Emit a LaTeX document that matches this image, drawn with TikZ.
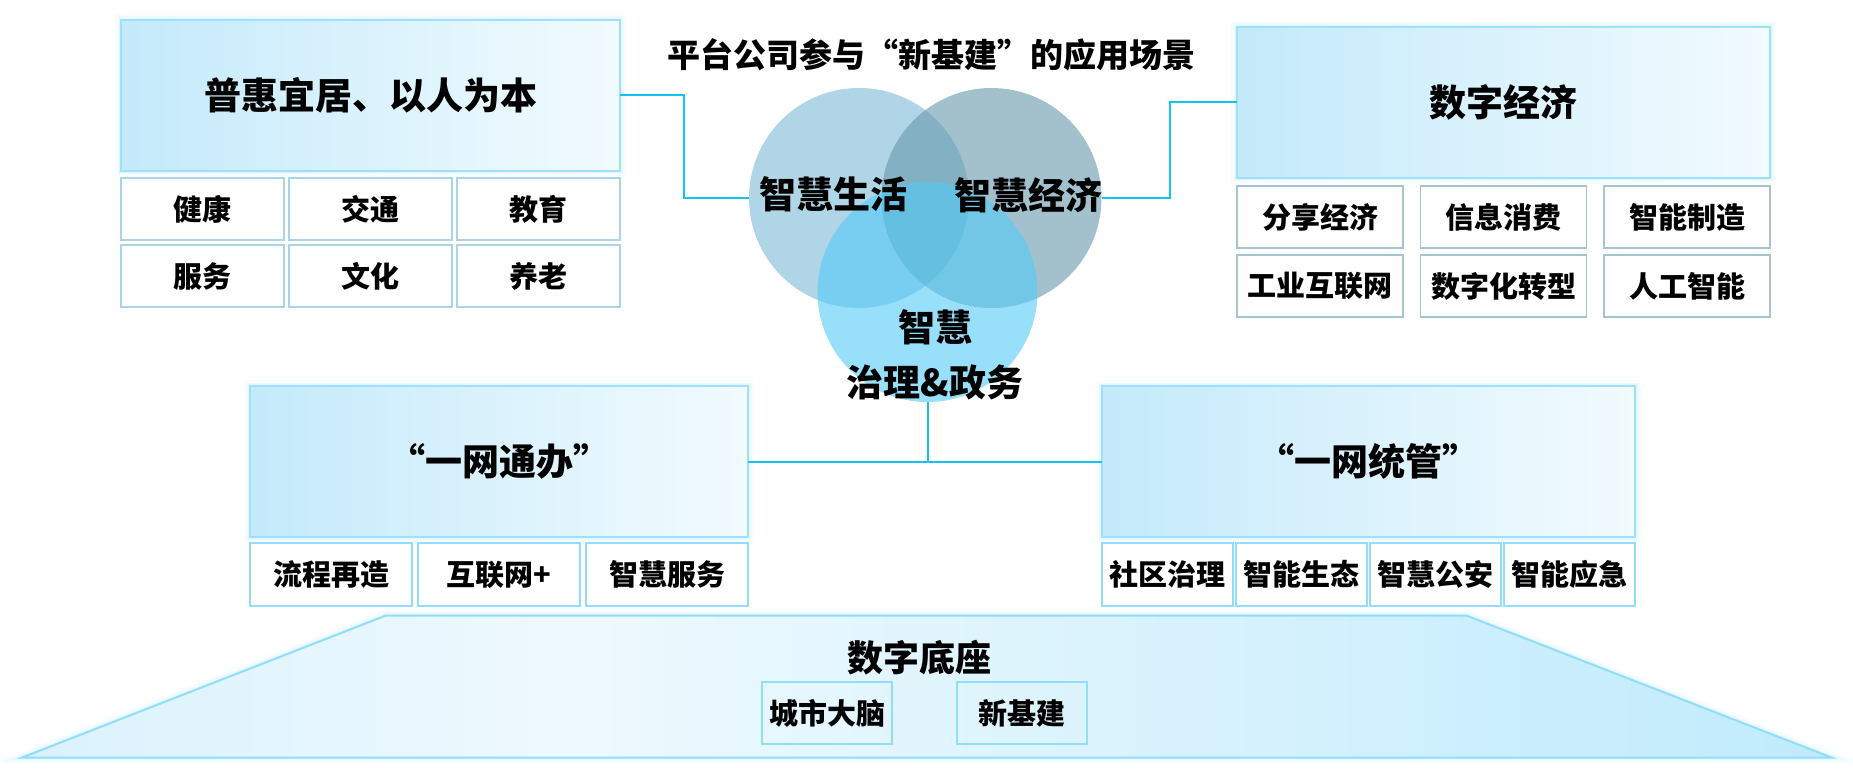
\documentclass[tikz,border=0pt]{standalone}
\usepackage{fontspec}
\setmainfont{Noto Sans CJK SC}[BoldFont={Noto Sans CJK SC Black}]
\usetikzlibrary{positioning}
\definecolor{linkcyan}{RGB}{20,196,240}
\definecolor{headline}{RGB}{160,225,250}
\definecolor{headL}{RGB}{196,234,251}
\definecolor{headR}{RGB}{242,251,254}
\definecolor{huiedge}{RGB}{172,212,232}
\definecolor{shuziedge}{RGB}{165,196,210}
\definecolor{lowedge}{RGB}{146,222,250}
\definecolor{lifeblue}{RGB}{123,185,213}
\definecolor{econblue}{RGB}{102,152,172}
\definecolor{govblue}{RGB}{83,203,247}
\definecolor{baseL}{RGB}{218,242,253}
\definecolor{baseM}{RGB}{238,249,254}
\definecolor{baseR}{RGB}{192,235,252}
\pgfdeclarehorizontalshading{baseshade}{100bp}{color(0bp)=(baseL); color(25bp)=(baseL); color(40bp)=(baseM); color(75bp)=(baseR); color(100bp)=(baseR)}
\tikzset{
    % soft halo round the boxes
    halo/.style={
           preaction={draw=headline, line width=12pt, draw opacity=0.07},
           preaction={draw=headline, line width=7pt, draw opacity=0.10},
           preaction={draw=headline, line width=4pt, draw opacity=0.15}},
    %Define style for heading boxes
    headbox/.style={
           rectangle, halo,
           draw=headline, line width=1.5pt,
           left color=headL, right color=headR,
           minimum height=151pt,
           outer sep=0pt,
           font=\bfseries\fontsize{37}{40}\selectfont},
 %
    itembox/.style={
           rectangle,
           fill=white, line width=1.8pt,
           minimum height=62pt,
           inner sep=0pt, outer sep=0pt,
           font=\bfseries\fontsize{29}{32}\selectfont},
    huiitem/.style={itembox, draw=huiedge, minimum width=163pt},
    shuziitem/.style={itembox, draw=shuziedge, minimum width=166pt},
    banitem/.style={itembox, draw=lowedge, minimum width=162pt, minimum height=63pt},
    guanitem/.style={itembox, draw=lowedge, minimum width=131pt, minimum height=63pt},
    baseitem/.style={itembox, draw=lowedge, fill=none, minimum width=130pt},
 %
    % circles of the venn part
    venn/.style={
           circle,
           minimum size=220pt,
           inner sep=0pt,
           fill opacity=0.6},
    venntext/.style={font=\bfseries\fontsize{37}{55}\selectfont, inner sep=0pt},
    % Define line style
    link/.style={
           draw=linkcyan,
           line width=2pt}
}
\begin{document}
\begin{tikzpicture}[x=1pt, y=-1pt]
  \useasboundingbox (0,0) rectangle (1853,778);

  % base
  \draw[halo, draw=lowedge, line width=2pt, shading=baseshade]
    (21.7,757.7) -- (385.5,615.7) -- (1466.7,615.7) -- (1832,757.7) -- cycle;
  \node[font=\bfseries\fontsize{36}{40}\selectfont] (dizuo) at (919.5,657.5) {数字底座};
  \node[baseitem] (brain) at (827,713) {城市大脑};
  \node[baseitem] (xinjijian) at (1021.75,713) {新基建};

  % venn
  \node[font=\bfseries\fontsize{33}{36}\selectfont] (title) at (931,55) {平台公司参与“新基建”的应用场景};
  \node[venn, fill=lifeblue] (lifeC) at (859,198) {};
  \node[venn, fill=econblue] (econC) at (991.5,198) {};
  \node[venn, fill=govblue] (govC) at (927.5,292) {};
  \node[venntext] (lifeT) at (833,194) {智慧生活};
  \node[venntext] (econT) at (1028,195) {智慧经济};
  \node[venntext, align=center] (govT) at (935,354.5) {智慧\\治理\&政务};

  % 普惠宜居
  \node[headbox, minimum width=499pt] (hui) at (370.5,95.5) {普惠宜居、以人为本};
  \node[huiitem, below right=7pt and 0pt of hui.south west] (jiankang) {健康};
  \node[huiitem, right=5pt of jiankang] (jiaotong) {交通};
  \node[huiitem, right=5pt of jiaotong] (jiaoyu) {教育};
  \node[huiitem, below=5pt of jiankang] (fuwu) {服务};
  \node[huiitem, right=5pt of fuwu] (wenhua) {文化};
  \node[huiitem, right=5pt of wenhua] (yanglao) {养老};

  % 数字经济
  \node[headbox, minimum width=533pt] (shuzi) at (1503.5,102.5) {数字经济};
  \node[shuziitem, below right=8pt and 0pt of shuzi.south west] (fenxiang) {分享经济};
  \node[shuziitem, right=17.5pt of fenxiang] (xinxi) {信息消费};
  \node[shuziitem, right=17.5pt of xinxi] (zhizao) {智能制造};
  \node[shuziitem, below=7pt of fenxiang] (gongye) {工业互联网};
  \node[shuziitem, right=17.5pt of gongye] (zhuanxing) {数字化转型};
  \node[shuziitem, right=17.5pt of zhuanxing] (rengong) {人工智能};

  % 一网通办
  \node[headbox, minimum width=498pt] (wangban) at (499,461.5) {“一网通办”};
  \node[banitem, below right=6pt and 0pt of wangban.south west] (liucheng) {流程再造};
  \node[banitem, right=6pt of liucheng] (hulian) {互联网+};
  \node[banitem, right=6pt of hulian] (zhfuwu) {智慧服务};

  % 一网统管
  \node[headbox, minimum width=533pt] (tongguan) at (1368.5,461.5) {“一网统管”};
  \node[guanitem, below right=6pt and 0pt of tongguan.south west] (shequ) {社区治理};
  \node[guanitem, right=3pt of shequ] (shengtai) {智能生态};
  \node[guanitem, right=3pt of shengtai] (gongan) {智慧公安};
  \node[guanitem, right=3pt of gongan] (yingji) {智能应急};

  % connectors
  \draw[link] (hui.east) -- ++(64,0) |- (lifeC.west);
  \draw[link] (econC.east) -- ++(68,0) |- (shuzi.west);
  \draw[link] (wangban.east) -- (tongguan.west);
  \draw[link] (govC.south) -- (govC.south |- wangban.east);
\end{tikzpicture}
\end{document}
